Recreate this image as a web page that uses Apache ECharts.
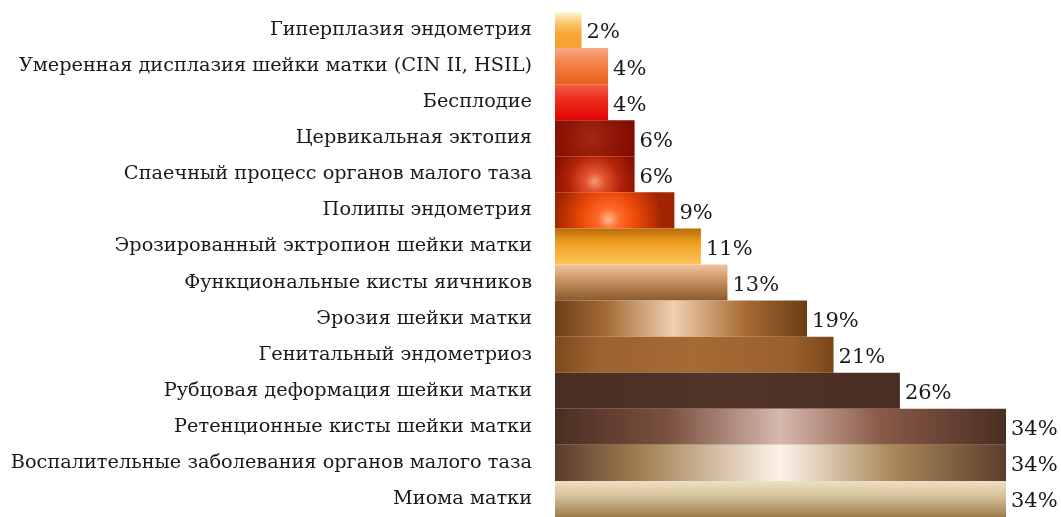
<!DOCTYPE html>
<html>
<head>
<meta charset="utf-8">
<script src="https://cdn.jsdelivr.net/npm/echarts@6/dist/echarts.min.js"></script>
<style>
  html, body { margin: 0; padding: 0; background: #ffffff; }
  #chart { width: 1061px; height: 517px; }
</style>
</head>
<body>
<div id="chart"></div>
<script>
// Diagnoses, listed top to bottom
const categories = [
  'Гиперплазия эндометрия',
  'Умеренная дисплазия шейки матки (CIN II, HSIL)',
  'Бесплодие',
  'Цервикальная эктопия',
  'Спаечный процесс органов малого таза',
  'Полипы эндометрия',
  'Эрозированный эктропион шейки матки',
  'Функциональные кисты яичников',
  'Эрозия шейки матки',
  'Генитальный эндометриоз',
  'Рубцовая деформация шейки матки',
  'Ретенционные кисты шейки матки',
  'Воспалительные заболевания органов малого таза',
  'Миома матки'
];

// Share of patients, percent
const shares = [2, 4, 4, 6, 6, 9, 11, 13, 19, 21, 26, 34, 34, 34];

const FONT = 'DejaVu Serif';

// Gradient helpers
function vGrad(stops) {
  return new echarts.graphic.LinearGradient(0, 0, 0, 1,
    stops.map(s => ({ offset: s[0], color: s[1] })));
}
function hGrad(stops) {
  return new echarts.graphic.LinearGradient(0, 0, 1, 0,
    stops.map(s => ({ offset: s[0], color: s[1] })));
}
function rGrad(x, y, r, stops) {
  return new echarts.graphic.RadialGradient(x, y, r,
    stops.map(s => ({ offset: s[0], color: s[1] })));
}

// One fill per bar, same order as the categories
const fills = [
  vGrad([[0, '#fff6dc'], [0.3, '#fbc770'], [0.6, '#f7a738'], [1, '#f6a030']]),
  vGrad([[0, '#f7a888'], [0.35, '#f4874e'], [1, '#ec5f1c']]),
  vGrad([[0, '#f46048'], [0.4, '#ee2e1c'], [1, '#e00404']]),
  rGrad(0.45, 0.5, 1.6, [[0, '#a42812'], [0.5, '#8c1404'], [1, '#720800']]),
  rGrad(0.5, 0.7, 1.3, [[0, '#f49a78'], [0.2, '#e25530'], [0.55, '#b42208'], [1, '#7e0c00']]),
  rGrad(0.45, 0.75, 1.5, [[0, '#ffb890'], [0.2, '#ff6a2a'], [0.5, '#ec4a08'], [1, '#a02400']]),
  vGrad([[0, '#b86c08'], [0.4, '#eea020'], [1, '#ffc45a']]),
  vGrad([[0, '#f0c4a0'], [0.45, '#c8915e'], [1, '#8a5a2e']]),
  hGrad([[0, '#6e4018'], [0.2, '#a26a34'], [0.47, '#f1d0b0'], [0.75, '#a86c34'], [1, '#6a3e14']]),
  hGrad([[0, '#7e4a1c'], [0.15, '#9c6230'], [0.5, '#a66a34'], [0.85, '#9a602c'], [1, '#7a4618']]),
  hGrad([[0, '#4a2e24'], [0.5, '#523428'], [1, '#4a2e24']]),
  hGrad([[0, '#4a2e22'], [0.25, '#7a5040'], [0.5, '#d6b8ac'], [0.72, '#8a5a48'], [1, '#4a2e22']]),
  hGrad([[0, '#5a3c2c'], [0.2, '#a48454'], [0.5, '#fdf2ea'], [0.75, '#a88858'], [1, '#5c3e2c']]),
  vGrad([[0, '#ece0c4'], [0.4, '#d8c49c'], [1, '#9c7c4c']])
];

const chart = echarts.init(document.getElementById('chart'), null, { renderer: 'canvas' });

chart.setOption({
  animation: false,
  backgroundColor: '#ffffff',
  grid: { left: 555, right: 55, top: 12, bottom: -4, containLabel: false },
  xAxis: {
    type: 'value',
    min: 0,
    max: 34,
    show: false
  },
  yAxis: {
    type: 'category',
    inverse: true,
    data: categories,
    axisLine: { show: false },
    axisTick: { show: false },
    splitLine: { show: false },
    axisLabel: {
      margin: 23,
      fontFamily: FONT,
      fontSize: 19.3,
      color: '#1a1a1a',
      verticalAlign: 'middle',
      padding: [0, 0, 11, 0]
    }
  },
  series: [{
    type: 'bar',
    barCategoryGap: 0,
    data: shares.map((v, i) => ({ value: v, itemStyle: { color: fills[i] } })),
    label: {
      show: true,
      position: 'right',
      distance: 1,
      offset: [0, 3],
      formatter: p => p.value + '%',
      fontFamily: FONT,
      fontSize: 21,
      color: '#1a1a1a',
      backgroundColor: '#ffffff',
      padding: [3, 3, 1, 4]
    }
  }]
});
</script>
</body>
</html>
